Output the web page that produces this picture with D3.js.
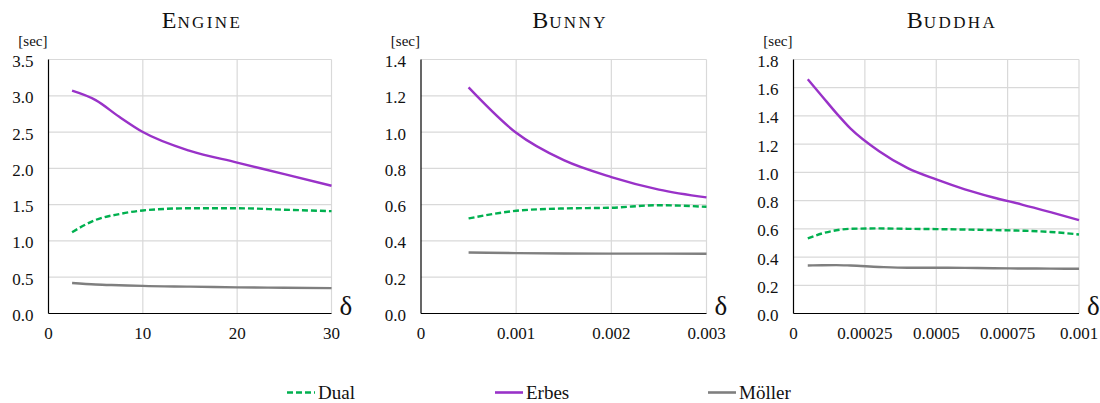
<!DOCTYPE html>
<html>
<head>
<meta charset="utf-8">
<script src="https://cdn.jsdelivr.net/npm/d3@7"></script>
<style>
  body { margin: 0; background: #fff; }
</style>
</head>
<body>
<svg id="chart" width="1100" height="403" font-family="'Liberation Serif', 'DejaVu Serif', serif"></svg>
<script>
"use strict";

// series names
var seriesNames = ["Dual", "Erbes", "Möller"];

// Engine
var engineX      = [2.5, 5, 7.5, 10, 15, 20, 25, 30];
var engineDual   = [1.12, 1.29, 1.37, 1.42, 1.45, 1.45, 1.43, 1.41];
var engineErbes  = [3.07, 2.94, 2.71, 2.50, 2.24, 2.08, 1.92, 1.76];
var engineMoller = [0.42, 0.40, 0.39, 0.38, 0.37, 0.36, 0.355, 0.35];
var engineXTicks = [0, 10, 20, 30];

// Bunny
var bunnyX      = [0.0005, 0.001, 0.0015, 0.002, 0.0025, 0.003];
var bunnyDual   = [0.524, 0.566, 0.579, 0.583, 0.597, 0.588];
var bunnyErbes  = [1.246, 0.996, 0.845, 0.752, 0.683, 0.640];
var bunnyMoller = [0.336, 0.333, 0.331, 0.330, 0.330, 0.329];
var bunnyXTicks = [0, 0.001, 0.002, 0.003];

// Buddha
var buddhaX      = [0.00005, 0.0001, 0.00015, 0.0002, 0.0003, 0.0004, 0.0005, 0.0006, 0.0007, 0.0008, 0.0009, 0.001];
var buddhaDual   = [0.532, 0.567, 0.590, 0.600, 0.603, 0.600, 0.598, 0.595, 0.591, 0.587, 0.578, 0.560];
var buddhaErbes  = [1.66, 1.54, 1.42, 1.31, 1.15, 1.03, 0.95, 0.88, 0.822, 0.772, 0.718, 0.662];
var buddhaMoller = [0.340, 0.342, 0.343, 0.340, 0.330, 0.324, 0.324, 0.323, 0.321, 0.319, 0.318, 0.317];
var buddhaXTicks = [0, 0.00025, 0.0005, 0.00075, 0.001];

var colors = {"Dual": "#00b04f", "Erbes": "#9932c8", "Möller": "#7f7f7f"};

var panels = [
  {title: "Engine", x: engineX, series: [engineDual, engineErbes, engineMoller],
   xMax: 30, yMax: 3.5, yStep: 0.5, xTicks: engineXTicks,
   left: 48.5, right: 331.5, titleX: 202},
  {title: "Bunny", x: bunnyX, series: [bunnyDual, bunnyErbes, bunnyMoller],
   xMax: 0.003, yMax: 1.4, yStep: 0.2, xTicks: bunnyXTicks,
   left: 421, right: 706.5, titleX: 570},
  {title: "Buddha", x: buddhaX, series: [buddhaDual, buddhaErbes, buddhaMoller],
   xMax: 0.001, yMax: 1.8, yStep: 0.2, xTicks: buddhaXTicks,
   left: 793.5, right: 1079, titleX: 952}
];

var plotTop = 59.5, plotBottom = 313.5;
var svg = d3.select("#chart");

panels.forEach(function(p) {
  var x = d3.scaleLinear().domain([0, p.xMax]).range([p.left, p.right]);
  var y = d3.scaleLinear().domain([0, p.yMax]).range([plotBottom, plotTop]);
  var g = svg.append("g").attr("fill", "#111");

  var yTicks = d3.range(0, p.yMax + p.yStep / 2, p.yStep);

  // grid
  g.selectAll(".hgrid").data(yTicks.slice(1)).enter().append("line")
    .attr("x1", p.left).attr("x2", p.right)
    .attr("y1", function(d) { return y(d); }).attr("y2", function(d) { return y(d); })
    .attr("stroke", "#d9d9d9").attr("stroke-width", 1.2);
  g.selectAll(".vgrid").data(p.xTicks.slice(1)).enter().append("line")
    .attr("x1", function(d) { return x(d); }).attr("x2", function(d) { return x(d); })
    .attr("y1", plotTop).attr("y2", plotBottom)
    .attr("stroke", "#d9d9d9").attr("stroke-width", 1.2);

  // axis lines
  g.append("line").attr("x1", p.left).attr("x2", p.left).attr("y1", plotTop).attr("y2", plotBottom)
    .attr("stroke", "#000").attr("stroke-width", 1.2);
  g.append("line").attr("x1", p.left).attr("x2", p.right).attr("y1", plotBottom).attr("y2", plotBottom)
    .attr("stroke", "#000").attr("stroke-width", 1.2);

  // tick labels
  g.selectAll(".ylab").data(yTicks).enter().append("text")
    .attr("x", p.left - 15).attr("y", function(d) { return y(d) + 7.5; })
    .attr("text-anchor", "end").attr("font-size", 17)
    .text(d3.format(".1f"));
  g.selectAll(".xlab").data(p.xTicks).enter().append("text")
    .attr("x", function(d) { return x(d); }).attr("y", 338.5)
    .attr("text-anchor", "middle").attr("font-size", 17)
    .text(function(d) { return d === 0 ? "0" : String(d); });

  // [sec] and delta
  g.append("text").attr("x", p.left - 1).attr("y", 46)
    .attr("text-anchor", "end").attr("font-size", 15).text("[sec]");
  g.append("text").attr("x", p.right + 8).attr("y", 315)
    .attr("font-size", 27).text("δ");

  // title in small caps
  var t = g.append("text").attr("x", p.titleX).attr("y", 28).attr("text-anchor", "middle");
  t.append("tspan").attr("font-size", 24).attr("letter-spacing", 1).text(p.title.charAt(0));
  t.append("tspan").attr("font-size", 17).attr("letter-spacing", 2.4).text(p.title.slice(1).toUpperCase());

  // lines
  var line = d3.line()
    .x(function(d) { return x(d[0]); })
    .y(function(d) { return y(d[1]); })
    .curve(d3.curveMonotoneX);

  // draw Möller, Dual, Erbes order
  [2, 0, 1].forEach(function(i) {
    var name = seriesNames[i];
    var pts = p.x.map(function(v, k) { return [v, p.series[i][k]]; });
    g.append("path").datum(pts)
      .attr("d", line)
      .attr("fill", "none")
      .attr("stroke", colors[name])
      .attr("stroke-width", 2.4)
      .attr("stroke-dasharray", name === "Dual" ? "6,3" : null);
  });
});

// legend
var legendX = [287, 495, 708];
var leg = svg.append("g").attr("fill", "#111");
seriesNames.forEach(function(name, i) {
  leg.append("line")
    .attr("x1", legendX[i]).attr("x2", legendX[i] + 28)
    .attr("y1", 392.5).attr("y2", 392.5)
    .attr("stroke", colors[name]).attr("stroke-width", 2.6)
    .attr("stroke-dasharray", name === "Dual" ? "6,3" : null);
  leg.append("text")
    .attr("x", legendX[i] + 31).attr("y", 399)
    .attr("font-size", 19).text(name);
});
</script>
</body>
</html>
